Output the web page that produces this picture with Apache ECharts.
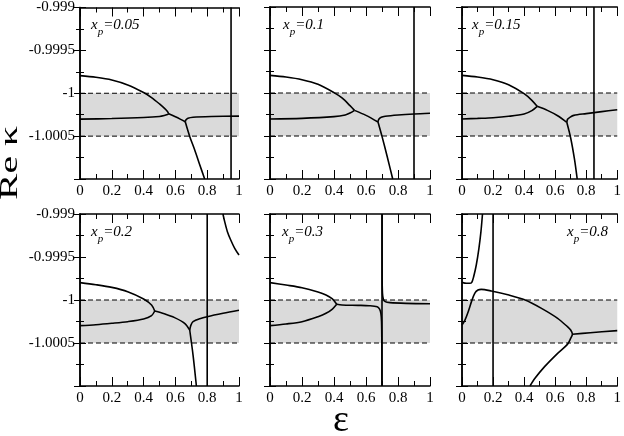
<!DOCTYPE html>
<html>
<head>
<meta charset="utf-8">
<script src="https://cdn.jsdelivr.net/npm/echarts@6/dist/echarts.min.js"></script>
<style>
html, body { margin: 0; padding: 0; background: #fff; }
#main { width: 624px; height: 436px; }
</style>
</head>
<body>
<div id="main"></div>
<script>
// tick labels
var xTickLabels = ['0', '0.2', '0.4', '0.6', '0.8', '1'];
var yTickValues = [-1.001, -1.0005, -1, -0.9995, -0.999];
var yTickLabels = ['', '-1.0005', '-1', '-0.9995', '-0.999'];
var xpLabels = ['0.05', '0.1', '0.15', '0.2', '0.3', '0.8'];
var poleX = [0.95, 0.9, 0.85, 0.8, 0.7, 0.2];// vertical line in each panel
var bandLow = -1.0005;
var bandHigh = -1;

// x_p = 0.05
var p1Upper = [[0,-0.999795],[0.1,-0.999814],[0.2,-0.999845],[0.3,-0.999903],[0.4,-0.999992],[0.45,-1.00005],[0.5,-1.000124],[0.53,-1.000174],[0.55,-1.000213],[0.558,-1.00024]];
var p1Lower = [[0,-1.000302],[0.2,-1.000295],[0.4,-1.000283],[0.5,-1.000271],[0.53,-1.00026],[0.55,-1.000248],[0.558,-1.00024]];
var p1Mid = [[0.558,-1.00024],[0.6,-1.000275],[0.63,-1.000302],[0.662,-1.000333]];
var p1Right = [[0.662,-1.000333],[0.667,-1.00031],[0.679,-1.000291],[0.711,-1.000279],[0.826,-1.000271],[1,-1.000267]];
var p1Drop = [[0.662,-1.000333],[0.69,-1.000504],[0.721,-1.000659],[0.753,-1.000833],[0.784,-1.001]];
// x_p = 0.1
var p2Upper = [[0,-0.999795],[0.1,-0.999814],[0.2,-0.999845],[0.3,-0.999899],[0.4,-0.999996],[0.45,-1.000058],[0.5,-1.000147],[0.528,-1.000202]];
var p2Lower = [[0,-1.000302],[0.2,-1.000295],[0.4,-1.000275],[0.47,-1.000256],[0.5,-1.000233],[0.528,-1.000202]];
var p2Mid = [[0.528,-1.000202],[0.6,-1.00026],[0.675,-1.000337]];
var p2Right = [[0.675,-1.000337],[0.68,-1.000305],[0.695,-1.000283],[0.72,-1.000271],[0.8,-1.000256],[0.9,-1.000244],[1,-1.000236]];
var p2Drop = [[0.675,-1.000337],[0.7,-1.000504],[0.732,-1.000736],[0.767,-1.001]];
// x_p = 0.15
var p3Upper = [[0,-0.999795],[0.1,-0.999814],[0.2,-0.999845],[0.3,-0.999903],[0.4,-1.000008],[0.45,-1.000085],[0.484,-1.000155]];
var p3Lower = [[0,-1.000302],[0.1,-1.000295],[0.2,-1.000287],[0.3,-1.000271],[0.4,-1.000244],[0.45,-1.000205],[0.484,-1.000155]];
var p3Mid = [[0.484,-1.000155],[0.55,-1.000202],[0.616,-1.000264],[0.675,-1.000341]];
var p3Right = [[0.675,-1.000341],[0.68,-1.000305],[0.695,-1.000283],[0.72,-1.00026],[0.8,-1.00024],[0.9,-1.000217],[1,-1.000194]];
var p3Drop = [[0.675,-1.000341],[0.7,-1.000523],[0.725,-1.000775],[0.742,-1.001]];
// x_p = 0.2
var p4Upper = [[0,-0.999798],[0.1,-0.999822],[0.2,-0.999853],[0.3,-0.999903],[0.4,-0.999988],[0.45,-1.000058],[0.47,-1.000128]];
var p4Lower = [[0,-1.000298],[0.1,-1.000287],[0.2,-1.000271],[0.3,-1.000252],[0.4,-1.000221],[0.45,-1.000182],[0.47,-1.000128]];
var p4Mid = [[0.47,-1.000128],[0.53,-1.00016],[0.595,-1.000205],[0.658,-1.000271],[0.69,-1.000349]];
var p4Right = [[0.69,-1.000349],[0.697,-1.000295],[0.711,-1.000252],[0.763,-1.000213],[0.8,-1.000194],[0.9,-1.000155],[1,-1.00012]];
var p4Drop = [[0.69,-1.000349],[0.711,-1.00064],[0.732,-1.001]];
var p4Top = [[0.899,-0.999],[0.91,-0.999089],[0.927,-0.999205],[0.948,-0.999302],[0.973,-0.999399],[1,-0.999477]];
// x_p = 0.3
var p5Upper = [[0,-0.999798],[0.1,-0.999826],[0.2,-0.999857],[0.3,-0.999907],[0.35,-0.999942],[0.39,-0.999988],[0.417,-1.00005]];
var p5Lower = [[0,-1.000298],[0.1,-1.000279],[0.2,-1.000252],[0.3,-1.000194],[0.35,-1.000155],[0.39,-1.000105],[0.417,-1.00005]];
var p5Left = [[0.417,-1.00005],[0.45,-1.000058],[0.55,-1.000062],[0.62,-1.000066],[0.67,-1.000078],[0.685,-1.000105],[0.693,-1.000155],[0.697,-1.000252],[0.699,-1.000523],[0.6995,-1.001]];
var p5Right = [[0.7005,-0.999],[0.701,-0.999748],[0.703,-0.999922],[0.708,-0.999988],[0.72,-1.000019],[0.75,-1.000031],[0.85,-1.000039],[1,-1.000043]];
// x_p = 0.8
var p6Top = [[0,-0.999795],[0.029,-0.999806],[0.05,-0.999806],[0.063,-0.999795],[0.075,-0.999729],[0.092,-0.999593],[0.109,-0.999399],[0.122,-0.999205],[0.132,-0.999]];
var p6Loop = [[0,-1.000291],[0.019,-1.000233],[0.04,-1.000136],[0.061,-1.000019],[0.082,-0.999922],[0.103,-0.999884],[0.124,-0.999876],[0.189,-0.999895],[0.302,-0.999942],[0.407,-1.0],[0.512,-1.000097],[0.616,-1.000213],[0.679,-1.00031],[0.7,-1.000349],[0.711,-1.000399],[0.7,-1.000446],[0.679,-1.000516],[0.616,-1.00062],[0.532,-1.000775],[0.47,-1.000911],[0.438,-1.001]];
var p6Right = [[0.711,-1.000399],[0.826,-1.00038],[1,-1.000356]];

var panelCurves = [
	[p1Upper, p1Lower, p1Mid, p1Right, p1Drop],
	[p2Upper, p2Lower, p2Mid, p2Right, p2Drop],
	[p3Upper, p3Lower, p3Mid, p3Right, p3Drop],
	[p4Upper, p4Lower, p4Mid, p4Right, p4Drop, p4Top],
	[p5Upper, p5Lower, p5Left, p5Right],
	[p6Top, p6Loop, p6Right]
];

// layout
var colLeft = [80, 270, 462];
var colWidth = [159, 160, 157];
var rowTop = [7, 214];
var plotH = 172;
var labelPos = [[91, 18, 'left'], [283, 18, 'left'], [472, 18, 'left'],
	[91, 225, 'left'], [282, 225, 'left'], [608, 225, 'right']];
var serif = "Liberation Serif";

function yLabel(v) {
	for (var i = 0; i < yTickValues.length; i++) {
		if (Math.abs(v - yTickValues[i]) < 1e-7) {
			return yTickLabels[i];
		}
	}
	return '';
}
function xLabel(v) {
	return xTickLabels[Math.round(v / 0.2)];
}

var grids = [], xAxes = [], yAxes = [], series = [], graphics = [];
for (var k = 0; k < 6; k++) {
	var col = k % 3, row = Math.floor(k / 3);
	grids.push({ left: colLeft[col], top: rowTop[row], width: colWidth[col], height: plotH });
	var line = { lineStyle: { color: '#000', width: 1.5 } };
	for (var s = 0; s < 2; s++) {
		xAxes.push({
			gridIndex: k, type: 'value', min: 0, max: 1, interval: 0.2,
			position: s == 0 ? 'bottom' : 'top', z: 5,
			axisLine: line,
			axisTick: { inside: true, length: 9, lineStyle: { color: '#000', width: 1 } },
			minorTick: { show: true, splitNumber: 2, length: 5, lineStyle: { color: '#000', width: 1 } },
			splitLine: { show: false },
			axisLabel: { show: s == 0, formatter: xLabel, color: '#000', fontSize: 15, fontFamily: serif, margin: 5 }
		});
		yAxes.push({
			gridIndex: k, type: 'value', min: -1.001, max: -0.999, interval: 0.0005,
			position: s == 0 ? 'left' : 'right', z: 5,
			axisLine: line,
			axisTick: { inside: true, length: 6, lineStyle: { color: '#000', width: 1 } },
			minorTick: { show: true, splitNumber: 2, length: 4, lineStyle: { color: '#000', width: 1 } },
			splitLine: { show: false },
			axisLabel: { show: s == 0 && col == 0, formatter: yLabel, color: '#000', fontSize: 15, fontFamily: serif, margin: 5 }
		});
	}
	// grey band
	series.push({
		type: 'line', xAxisIndex: 2 * k, yAxisIndex: 2 * k, z: 1, silent: true,
		data: [[0, bandHigh], [1, bandHigh]], showSymbol: false,
		lineStyle: { opacity: 0 },
		markArea: {
			silent: true, itemStyle: { color: '#dadada' },
			data: [[{ yAxis: bandLow }, { yAxis: bandHigh }]]
		}
	});
	// dashed band edges
	series.push({
		type: 'line', xAxisIndex: 2 * k, yAxisIndex: 2 * k, z: 2, silent: true,
		data: [[0, bandHigh], [1, bandHigh]], showSymbol: false,
		lineStyle: { color: '#000', width: 1, type: [5, 3] }
	});
	series.push({
		type: 'line', xAxisIndex: 2 * k, yAxisIndex: 2 * k, z: 2, silent: true,
		data: [[0, bandLow], [1, bandLow]], showSymbol: false,
		lineStyle: { color: '#000', width: 1, type: [5, 3] }
	});
	// vertical line
	series.push({
		type: 'line', xAxisIndex: 2 * k, yAxisIndex: 2 * k, z: 2, silent: true,
		data: [[poleX[k], -1.001], [poleX[k], -0.999]], showSymbol: false,
		lineStyle: { color: '#000', width: 1.6 }
	});
	var curves = panelCurves[k];
	for (var c = 0; c < curves.length; c++) {
		series.push({
			type: 'line', xAxisIndex: 2 * k, yAxisIndex: 2 * k, z: 3, silent: true,
			data: curves[c], showSymbol: false, smooth: 0.3,
			lineStyle: { color: '#000', width: 1.6 }
		});
	}
	var lp = labelPos[k];
	graphics.push({
		type: 'text', x: lp[0], y: lp[1], z: 10,
		style: {
			text: '{i|x}{s|p}{i|=' + xpLabels[k] + '}',
			align: lp[2], verticalAlign: 'top',
			rich: {
				i: { fontSize: 15, fontStyle: 'italic', fontFamily: serif, fill: '#000', verticalAlign: 'top', lineHeight: 17 },
				s: { fontSize: 11, fontStyle: 'italic', fontFamily: serif, fill: '#000', verticalAlign: 'top', padding: [9, 0, 0, 0] }
			}
		}
	});
}
// axis titles
graphics.push({
	type: 'text', x: 10, y: 163, rotation: Math.PI / 2, scaleX: 1.2, scaleY: 0.75,
	style: { text: 'Re κ', fontSize: 33, fontFamily: serif, fill: '#000', align: 'center', verticalAlign: 'middle' }
});
graphics.push({
	type: 'text', x: 341, y: 421,
	style: { text: 'ε', fontSize: 38, fontFamily: serif, fill: '#000', align: 'center', verticalAlign: 'middle' }
});

var mycharts = echarts.init(document.getElementById('main'));
mycharts.setOption({
	animation: false,
	backgroundColor: '#fff',
	grid: grids,
	xAxis: xAxes,
	yAxis: yAxes,
	series: series,
	graphic: graphics
});
</script>
</body>
</html>
